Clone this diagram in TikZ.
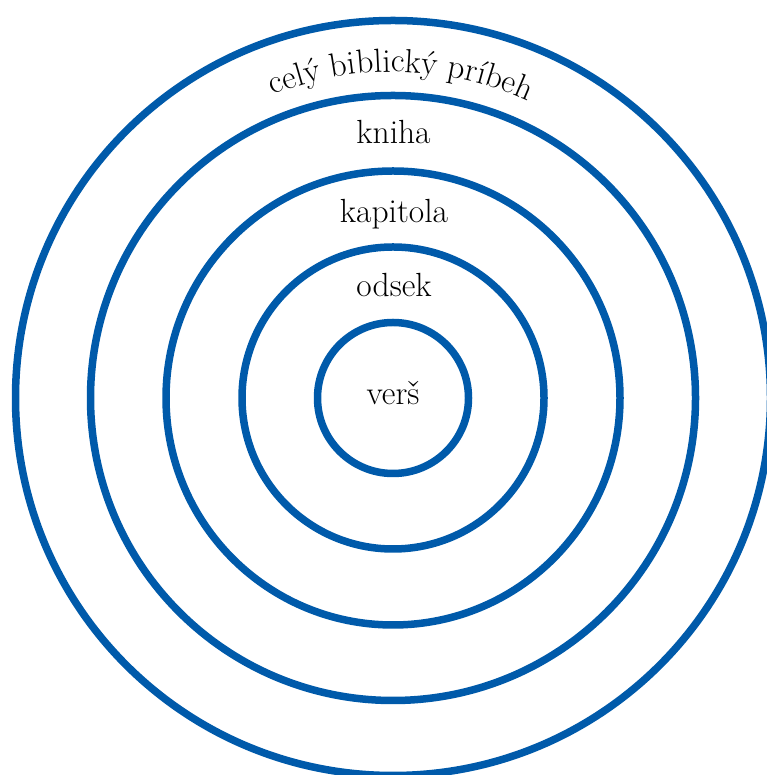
\documentclass[tikz,border=0pt]{standalone}
\usetikzlibrary{decorations.text}
\definecolor{ringblue}{RGB}{0,90,170}
\begin{document}
\begin{tikzpicture}[x=1pt,y=1pt,
  ring/.style={draw=ringblue,line width=7.5pt},
  lbl/.style={anchor=base,inner sep=0pt,font=\fontsize{33.5}{33.5}\selectfont}]
\useasboundingbox (0,0) rectangle (766,775);
\coordinate (c) at (393,377);
\draw[ring] (c) circle[radius=377.5];
\draw[ring] (c) circle[radius=302.5];
\draw[ring] (c) circle[radius=227];
\draw[ring] (c) circle[radius=151];
\draw[ring] (c) circle[radius=75.5];
\path[decorate,decoration={text along path,text align=center,
  text={|\fontsize{33.5}{33.5}\selectfont|celý biblický príbeh}}]
  (c) ++(148.6:326) arc[start angle=148.6,end angle=28.6,radius=326];
\node[lbl] (kniha) at (393.5,631) {kniha};
\node[lbl] (kapitola) at (394,552) {kapitola};
\node[lbl] (odsek) at (394,478) {odsek};
\node[lbl] (vers) at (393,370) {verš};
\end{tikzpicture}
\end{document}
